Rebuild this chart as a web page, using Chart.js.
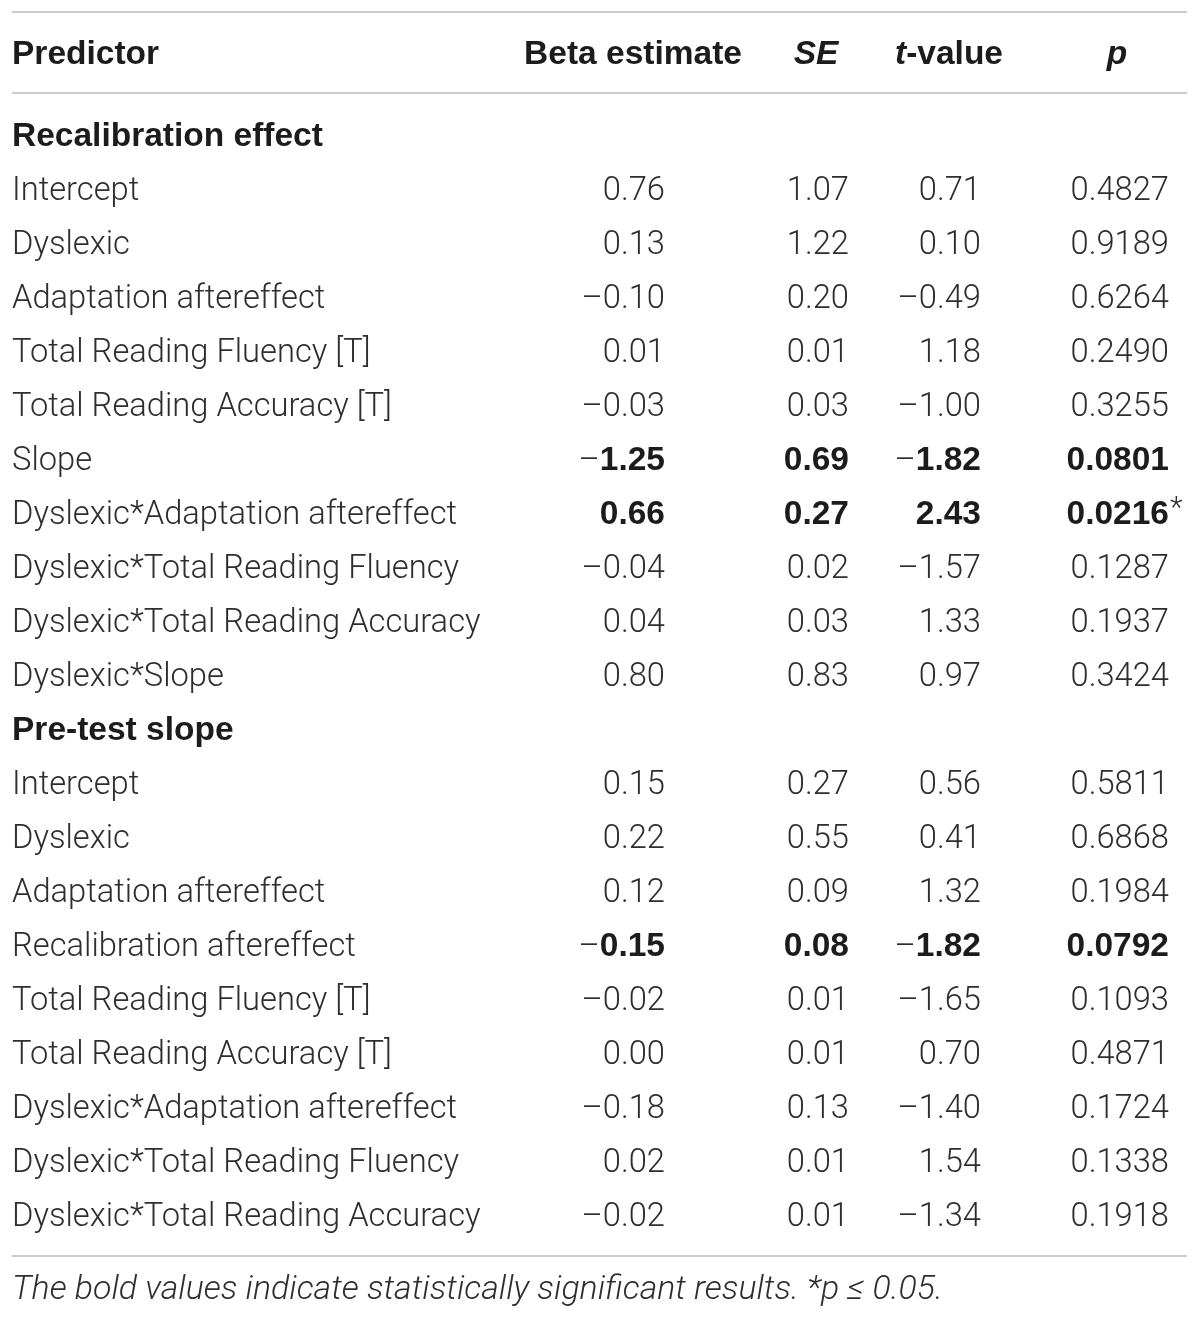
<!DOCTYPE html>
<html><head><meta charset="utf-8">
<script src="https://cdn.jsdelivr.net/npm/chart.js@4.4.1/dist/chart.umd.min.js"></script>
<style>html,body{margin:0;padding:0;background:#fff;}#wrap{width:1200px;height:1319px;}</style>
</head><body><div id="wrap"><canvas id="c" width="1200" height="1319"></canvas></div>
<script>
// ---------- DATA ----------
const columnHeaders = ["Predictor", "Beta estimate", "SE", "t-value", "p"];

const section1 = "Recalibration effect";
const predictors1 = ["Intercept","Dyslexic","Adaptation aftereffect","Total Reading Fluency [T]","Total Reading Accuracy [T]","Slope","Dyslexic*Adaptation aftereffect","Dyslexic*Total Reading Fluency","Dyslexic*Total Reading Accuracy","Dyslexic*Slope"];
const beta1 = [0.76, 0.13, -0.10, 0.01, -0.03, -1.25, 0.66, -0.04, 0.04, 0.80];
const se1   = [1.07, 1.22, 0.20, 0.01, 0.03, 0.69, 0.27, 0.02, 0.03, 0.83];
const t1    = [0.71, 0.10, -0.49, 1.18, -1.00, -1.82, 2.43, -1.57, 1.33, 0.97];
const p1    = [0.4827, 0.9189, 0.6264, 0.2490, 0.3255, 0.0801, 0.0216, 0.1287, 0.1937, 0.3424];
const bold1 = [false, false, false, false, false, true, true, false, false, false];
const star1 = [false, false, false, false, false, false, true, false, false, false];

const section2 = "Pre-test slope";
const predictors2 = ["Intercept","Dyslexic","Adaptation aftereffect","Recalibration aftereffect","Total Reading Fluency [T]","Total Reading Accuracy [T]","Dyslexic*Adaptation aftereffect","Dyslexic*Total Reading Fluency","Dyslexic*Total Reading Accuracy"];
const beta2 = [0.15, 0.22, 0.12, -0.15, -0.02, 0.00, -0.18, 0.02, -0.02];
const se2   = [0.27, 0.55, 0.09, 0.08, 0.01, 0.01, 0.13, 0.01, 0.01];
const t2    = [0.56, 0.41, 1.32, -1.82, -1.65, 0.70, -1.40, 1.54, -1.34];
const p2    = [0.5811, 0.6868, 0.1984, 0.0792, 0.1093, 0.4871, 0.1724, 0.1338, 0.1918];
const bold2 = [false, false, false, true, false, false, false, false, false];
const star2 = [false, false, false, false, false, false, false, false, false];

const footnote = "The bold values indicate statistically significant results. *p \u2264 0.05.";

// ---------- LAYOUT (styles / positions) ----------
const ROW0_PX = 134, ROW_PX = 54, H = 1319, W = 1200;
const colX = { label: 12, beta: 665, se: 849, t: 981, p: 1169 };
const headX = { label: 12, beta: 633, se: 816, t: 949, p: 1117 };
const pxToRow = px => (px - ROW0_PX) / ROW_PX;
const LINE_L = 12, LINE_R = 1187;
const rules = [pxToRow(12), pxToRow(93), pxToRow(1256)];
const headerRow = pxToRow(52);
const footRow = pxToRow(1287);

const LIGHT_FAM = 'Roboto, "Liberation Sans", Arial, sans-serif';
const BOLD_FAM = '"Liberation Sans", Arial, Helvetica, sans-serif';
const TXT = '#2e2e2e', TXT_B = '#1c1c1c', RULE = '#cccccc';

const fmt = (v, d) => { const s = Math.abs(v).toFixed(d); return v < 0 ? '\u2013' + s : s; };

// build rows
const rows = [];
function addSection(title, preds, b, s, t, p, bold, star) {
  rows.push({ section: true, label: title });
  preds.forEach((lab, i) => rows.push({ label: lab, beta: fmt(b[i], 2), se: fmt(s[i], 2), t: fmt(t[i], 2), p: fmt(p[i], 4), bold: bold[i], star: star[i] }));
}
addSection(section1, predictors1, beta1, se1, t1, p1, bold1, star1);
addSection(section2, predictors2, beta2, se2, t2, p2, bold2, star2);

function textDataset(key, align) {
  return {
    type: 'scatter', label: key, pointRadius: 0, showLine: false,
    data: rows.map((r, i) => r[key] === undefined ? null : { x: colX[key], y: i, text: r[key], kind: r.section ? 'section' : (r.bold && key !== 'label' ? 'bold' : 'light'), star: key === 'p' && r.star }).filter(Boolean),
    textAlign: align
  };
}

const datasets = [];
rules.forEach((ry, i) => datasets.push({ type: 'line', label: 'rule' + i, data: [{ x: LINE_L, y: ry }, { x: LINE_R, y: ry }], borderColor: RULE, borderWidth: 2, pointRadius: 0 }));
datasets.push(textDataset('label', 'left'));
datasets.push(textDataset('beta', 'right'));
datasets.push(textDataset('se', 'right'));
datasets.push(textDataset('t', 'right'));
datasets.push(textDataset('p', 'right'));
datasets.push({
  type: 'scatter', label: 'header', pointRadius: 0, textAlign: 'header',
  data: [
    { x: headX.label, y: headerRow, segs: [[columnHeaders[0], 'b']], align: 'left' },
    { x: headX.beta, y: headerRow, segs: [[columnHeaders[1], 'b']], align: 'center' },
    { x: headX.se, y: headerRow, segs: [[columnHeaders[2], 'bi']], align: 'center' },
    { x: headX.t, y: headerRow, segs: [[columnHeaders[3].slice(0, 1), 'bi'], [columnHeaders[3].slice(1), 'b']], align: 'center' },
    { x: headX.p, y: headerRow, segs: [[columnHeaders[4], 'bi']], align: 'center' }
  ]
});
datasets.push({ type: 'scatter', label: 'foot', pointRadius: 0, textAlign: 'header',
  data: [{ x: 12, y: footRow, segs: [[footnote, 'i']], align: 'left' }] });

let sizes = null;
function fitSizes(ctx) {
  const fit = (fontFn, str, target) => { ctx.font = fontFn(32); return 32 * target / ctx.measureText(str).width; };
  const L = fit(s => `300 ${s}px ${LIGHT_FAM}`, 'Total Reading Accuracy [T]', 380);
  const B = fit(s => `700 ${s}px ${BOLD_FAM}`, 'Recalibration effect', 311);
  const I = fit(s => `italic 300 ${s}px ${LIGHT_FAM}`, footnote, 931);
  return { L, B, I };
}
function font(k) {
  if (k === 'l') return `300 ${sizes.L}px ${LIGHT_FAM}`;
  if (k === 'b') return `700 ${sizes.B}px ${BOLD_FAM}`;
  if (k === 'bi') return `italic 700 ${sizes.B}px ${BOLD_FAM}`;
  if (k === 'i') return `italic 300 ${sizes.I}px ${LIGHT_FAM}`;
  if (k === 'sup') return `300 ${sizes.L * 0.9}px ${LIGHT_FAM}`;
}
function color(k) { return (k === 'l' || k === 'i' || k === 'sup') ? TXT : TXT_B; }
function drawSegs(ctx, segs, x, y, align) {
  const capH = sizes.L * 0.716;
  const base = y + capH / 2;
  const widths = segs.map(([t, k]) => { ctx.font = font(k); return ctx.measureText(t).width; });
  const total = widths.reduce((a, b) => a + b, 0);
  let cx = align === 'left' ? x : align === 'right' ? x - total : x - total / 2;
  ctx.textAlign = 'left'; ctx.textBaseline = 'alphabetic';
  segs.forEach(([t, k], i) => { ctx.font = font(k); ctx.fillStyle = color(k); ctx.fillText(t, cx, base); cx += widths[i]; });
}

const tablePlugin = {
  id: 'tableText',
  afterDatasetsDraw(chart) {
    const ctx = chart.ctx;
    if (!sizes) sizes = fitSizes(ctx);
    ctx.save();
    chart.data.datasets.forEach((ds, di) => {
      if (!ds.textAlign) return;
      const meta = chart.getDatasetMeta(di);
      meta.data.forEach((el, i) => {
        const d = ds.data[i];
        if (ds.textAlign === 'header') { drawSegs(ctx, d.segs, el.x, el.y, d.align); return; }
        let segs;
        if (d.kind === 'section') segs = [[d.text, 'b']];
        else if (d.kind === 'bold') {
          segs = d.text.startsWith('\u2013') ? [['\u2013', 'l'], [d.text.slice(1), 'b']] : [[d.text, 'b']];
        } else segs = [[d.text, 'l']];
        drawSegs(ctx, segs, el.x, el.y, ds.textAlign);
        if (d.star) {
          ctx.font = font('sup'); ctx.fillStyle = TXT; ctx.textAlign = 'left'; ctx.textBaseline = 'alphabetic';
          ctx.fillText('*', el.x + 1, el.y + 5);
        }
      });
    });
    ctx.restore();
  }
};

new Chart(document.getElementById('c'), {
  data: { datasets },
  options: {
    responsive: false, animation: false, devicePixelRatio: 1,
    layout: { padding: 0 },
    plugins: { legend: { display: false }, tooltip: { enabled: false } },
    scales: {
      x: { type: 'linear', min: 0, max: W, display: false },
      y: { type: 'linear', reverse: true, min: pxToRow(0), max: pxToRow(H), display: false }
    }
  },
  plugins: [tablePlugin]
});
</script></body></html>
